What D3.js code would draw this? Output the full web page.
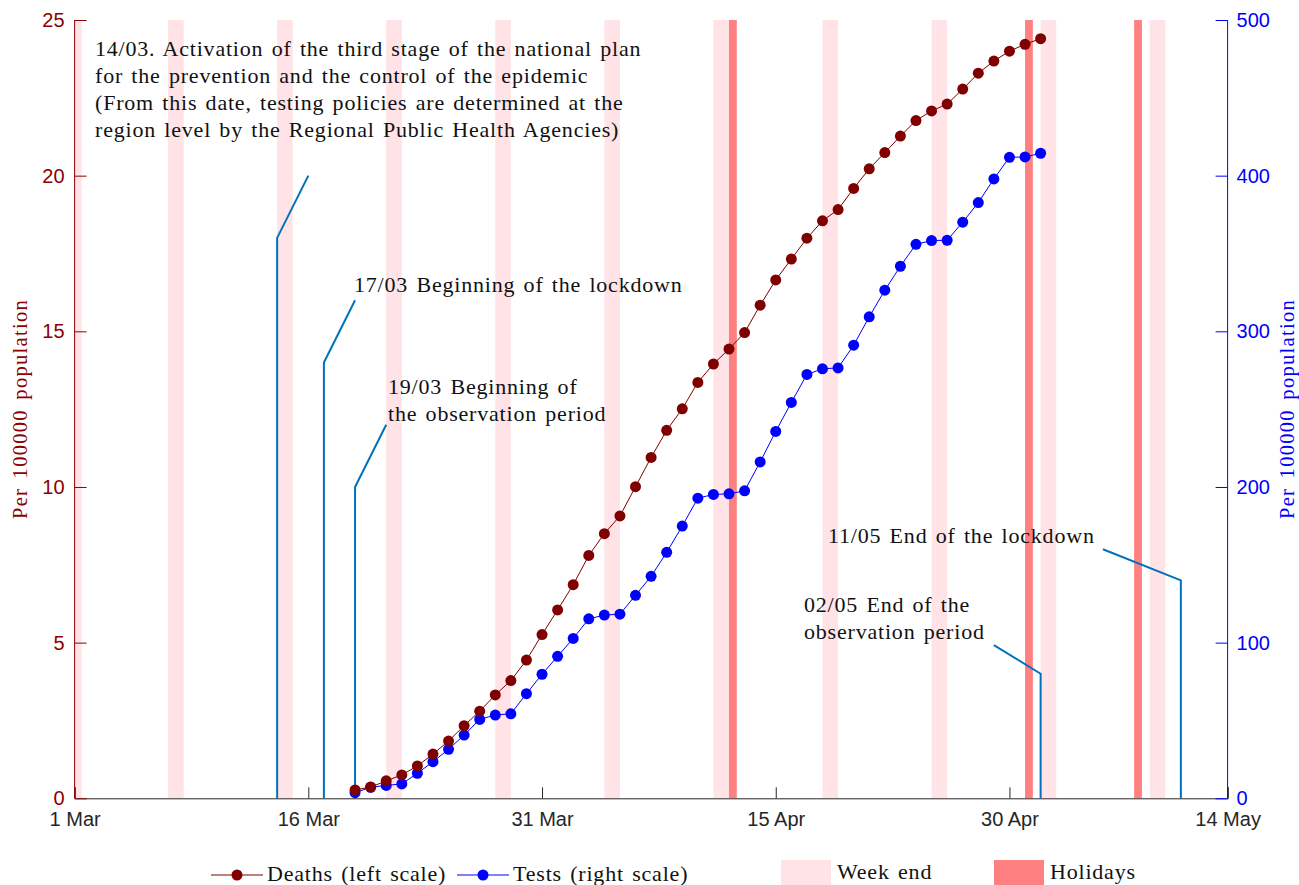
<!DOCTYPE html>
<html lang="en">
<head>
<meta charset="utf-8">
<title>Deaths and tests per 100000 population</title>
<script src="https://cdn.jsdelivr.net/npm/d3@7"></script>
<style>
  body { margin: 0; background: #fff; }
  .serif { font-family: "Liberation Serif", "DejaVu Serif", serif; letter-spacing: 0.8px; word-spacing: 2px; }
  .ytitle { letter-spacing: 1.3px; word-spacing: 3px; }
  .tick text { font-family: "Liberation Sans", Arial, sans-serif; font-size: 20px; }
</style>
</head>
<body>
<svg width="1299" height="885"></svg>
<script>
// ---- data ----
var firstDay = "2020-03-19";
var deaths = [0.27, 0.36, 0.56, 0.75, 1.04, 1.42, 1.84, 2.33, 2.80, 3.32, 3.78, 4.44, 5.26, 6.05, 6.86,
  7.80, 8.50, 9.07, 10.01, 10.95, 11.82, 12.51, 13.36, 13.95, 14.43, 14.96, 15.84, 16.65, 17.32, 17.99,
  18.55, 18.91, 19.59, 20.22, 20.74, 21.27, 21.77, 22.08, 22.30, 22.78, 23.29, 23.68, 24.00, 24.22, 24.40];
var tests = [3.6, 7.1, 8.3, 9.2, 16.1, 23.5, 31.5, 40.6, 50.7, 53.5, 54.3, 67.2, 79.7, 91.2, 102.7,
  115.3, 117.7, 118.3, 130.4, 142.6, 158.0, 174.9, 192.8, 195.2, 195.6, 197.5, 216.1, 235.7, 254.3, 272.3,
  275.9, 276.5, 291.1, 309.3, 326.4, 341.8, 355.9, 358.3, 358.5, 370.1, 382.7, 397.9, 411.8, 412.0, 414.4];

// week-end bands: start date and length in days
var weekends = [["2020-03-01", 0.45], ["2020-03-07", 1], ["2020-03-14", 1], ["2020-03-21", 1], ["2020-03-28", 1],
  ["2020-04-04", 1], ["2020-04-11", 1], ["2020-04-18", 1], ["2020-04-25", 1], ["2020-05-02", 1], ["2020-05-09", 1]];
var holidays = ["2020-04-12", "2020-05-01", "2020-05-08"];

var xTicks = ["2020-03-01", "2020-03-16", "2020-03-31", "2020-04-15", "2020-04-30", "2020-05-14"];
var leftTicks = [0, 5, 10, 15, 20, 25];
var rightTicks = [0, 100, 200, 300, 400, 500];

// events: date of the vertical line, its height, then where the leader ends (date, height) on left scale
var events = [
  { date: "2020-03-14", h: 18, toDate: "2020-03-16", toH: 20 },
  { date: "2020-03-17", h: 14, toDate: "2020-03-19", toH: 16 },
  { date: "2020-03-19", h: 10, toDate: "2020-03-21", toH: 12 },
  { date: "2020-05-02", h: 4, toDate: "2020-04-29", toH: 4.92 },
  { date: "2020-05-11", h: 7, toDate: "2020-05-06", toH: 8 }
];

// ---- scales ----
var parse = d3.utcParse("%Y-%m-%d");
var fmt = d3.utcFormat("%-d %b");
var svg = d3.select("svg");

var x = d3.scaleUtc()
  .domain([parse("2020-03-01"), parse("2020-05-14")])
  .range([74.6, 1227.6]);
var yLeft = d3.scaleLinear().domain([0, 25]).range([798.3, 20]);
var yRight = d3.scaleLinear().domain([0, 500]).range([798.3, 20]);

var days = d3.utcDay.range(parse(firstDay), d3.utcDay.offset(parse(firstDay), deaths.length));
var dayMs = 86400000;

// week-end and holiday bands
svg.append("g").selectAll("rect")
  .data(weekends)
  .enter()
  .append("rect")
    .attr("x", function (d) { return x(parse(d[0])); })
    .attr("width", function (d) { return x(new Date(+parse(d[0]) + d[1] * dayMs)) - x(parse(d[0])); })
    .attr("y", yLeft(25))
    .attr("height", yLeft(0) - yLeft(25))
    .attr("fill", "#ffe3e6");

svg.append("g").selectAll("rect")
  .data(holidays)
  .enter()
  .append("rect")
    .attr("x", function (d) { return x(parse(d)); })
    .attr("width", function (d) { return x(new Date(+parse(d) + 0.5 * dayMs)) - x(parse(d)); })
    .attr("y", yLeft(25))
    .attr("height", yLeft(0) - yLeft(25))
    .attr("fill", "#ff8080");

// event lines
var eventLine = d3.line()
  .x(function (d) { return x(parse(d[0])); })
  .y(function (d) { return yLeft(d[1]); });

svg.append("g").selectAll("path")
  .data(events)
  .enter()
  .append("path")
    .attr("d", function (d) { return eventLine([[d.date, 0], [d.date, d.h], [d.toDate, d.toH]]); })
    .attr("fill", "none")
    .attr("stroke", "#0072bd")
    .attr("stroke-width", 2);

// annotation texts
var notes = [
  { x: 95, y: 56, lines: ["14/03. Activation of the third stage of the national plan",
    "for the prevention and the control of the epidemic",
    "(From this date, testing policies are determined at the",
    "region level by the Regional Public Health Agencies)"] },
  { x: 354, y: 292, lines: ["17/03 Beginning of the lockdown"] },
  { x: 388, y: 394, lines: ["19/03 Beginning of", "the observation period"] },
  { x: 804, y: 611.5, lines: ["02/05 End of the", "observation period"] },
  { x: 828, y: 543, lines: ["11/05 End of the lockdown"] }
];
var noteText = svg.append("g").selectAll("text")
  .data(notes)
  .enter()
  .append("text")
    .classed("serif", true)
    .attr("font-size", 22)
    .attr("fill", "#111");
noteText.selectAll("tspan")
  .data(function (d) { return d.lines.map(function (l) { return { t: l, x: d.x, y: d.y }; }); })
  .enter()
  .append("tspan")
    .attr("x", function (d) { return d.x; })
    .attr("y", function (d, i) { return d.y + i * 27; })
    .text(function (d) { return d.t; });

// series
var lineDeaths = d3.line()
  .x(function (d, i) { return x(days[i]); })
  .y(function (d) { return yLeft(d); });
var lineTests = d3.line()
  .x(function (d, i) { return x(days[i]); })
  .y(function (d) { return yRight(d); });

svg.append("path").datum(tests)
  .attr("d", lineTests).attr("fill", "none").attr("stroke", "#0000ff").attr("stroke-width", 1);
svg.append("g").selectAll("circle")
  .data(tests)
  .enter()
  .append("circle")
    .attr("cx", function (d, i) { return x(days[i]); })
    .attr("cy", function (d) { return yRight(d); })
    .attr("r", 5.5)
    .attr("fill", "#0000ff");

svg.append("path").datum(deaths)
  .attr("d", lineDeaths).attr("fill", "none").attr("stroke", "#800000").attr("stroke-width", 1);
svg.append("g").selectAll("circle")
  .data(deaths)
  .enter()
  .append("circle")
    .attr("cx", function (d, i) { return x(days[i]); })
    .attr("cy", function (d) { return yLeft(d); })
    .attr("r", 5.5)
    .attr("fill", "#800000");

// axes
var axisX = d3.axisBottom(x)
  .tickValues(xTicks.map(parse))
  .tickFormat(fmt)
  .tickSize(-11)
  .tickPadding(14);
var gx = svg.append("g").attr("transform", "translate(0," + yLeft(0) + ")").call(axisX);
gx.selectAll("path, line").attr("stroke", "#262626");
gx.selectAll("text").attr("fill", "#262626");

var axisL = d3.axisLeft(yLeft).tickValues(leftTicks).tickSize(-12).tickPadding(10);
var gl = svg.append("g").attr("transform", "translate(" + x.range()[0] + ",0)").call(axisL);
gl.select(".domain").attr("d", "M0," + yLeft(0) + "V" + yLeft(25));
gl.selectAll("path, line").attr("stroke", "#8b0000");
gl.selectAll("text").attr("fill", "#8b0000");

var axisR = d3.axisRight(yRight).tickValues(rightTicks).tickSize(-12).tickPadding(9);
var gr = svg.append("g").attr("transform", "translate(" + x.range()[1] + ",0)").call(axisR);
gr.select(".domain").attr("d", "M0," + yRight(0) + "V" + yRight(500));
gr.selectAll("path, line").attr("stroke", "#0000ff");
gr.selectAll("text").attr("fill", "#0000ff");

// axis titles
svg.append("text").classed("serif", true).classed("ytitle", true)
  .attr("transform", "translate(27,409) rotate(-90)")
  .attr("text-anchor", "middle").attr("font-size", 20.5).attr("fill", "#8b0000")
  .text("Per 100000 population");
svg.append("text").classed("serif", true).classed("ytitle", true)
  .attr("transform", "translate(1294,409) rotate(-90)")
  .attr("text-anchor", "middle").attr("font-size", 20.5).attr("fill", "#0000ff")
  .text("Per 100000 population");

// legend
var legend = svg.append("g").classed("serif", true).attr("font-size", 22).attr("fill", "#111");
var series = [["Deaths (left scale)", "#800000", 211], ["Tests (right scale)", "#0000ff", 457]];
series.forEach(function (s) {
  legend.append("line").attr("x1", s[2]).attr("x2", s[2] + 52).attr("y1", 875).attr("y2", 875)
    .attr("stroke", s[1]).attr("stroke-width", 1);
  legend.append("circle").attr("cx", s[2] + 26).attr("cy", 875).attr("r", 5.5).attr("fill", s[1]);
  legend.append("text").attr("x", s[2] + 56).attr("y", 881).text(s[0]);
});
var patches = [["Week end", "#ffe3e6", 781], ["Holidays", "#ff8080", 994]];
patches.forEach(function (p) {
  legend.append("rect").attr("x", p[2]).attr("y", 860).attr("width", 50).attr("height", 25).attr("fill", p[1]);
  legend.append("text").attr("x", p[2] + 56).attr("y", 879).text(p[0]);
});
</script>
</body>
</html>
